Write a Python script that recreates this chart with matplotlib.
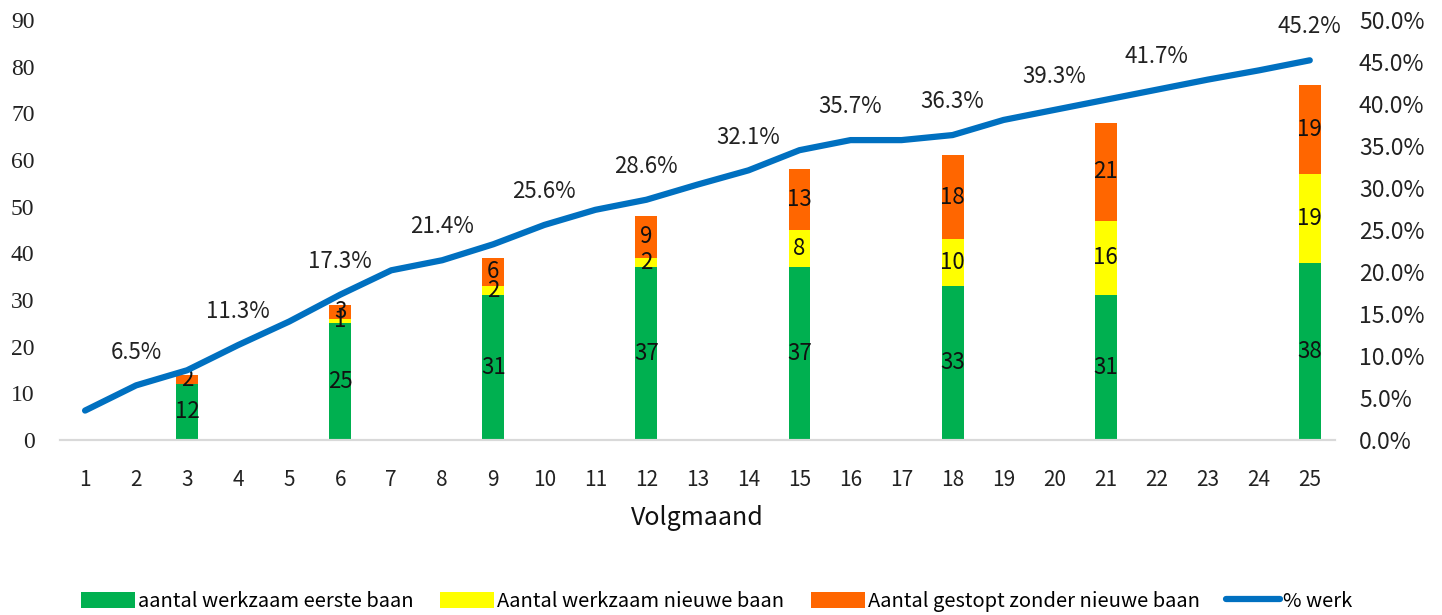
import numpy as np
import matplotlib
matplotlib.use("Agg")
import matplotlib.pyplot as plt
from matplotlib.ticker import PercentFormatter

plt.rcParams['font.family'] = ['Noto Sans CJK KR', 'DejaVu Sans']

# data
maanden = list(range(1, 26))
pct_werk = [3.5, 6.5, 8.3, 11.3, 14.1, 17.3, 20.2, 21.4, 23.3, 25.6, 27.4, 28.6, 30.4,
            32.1, 34.5, 35.7, 35.7, 36.3, 38.1, 39.3, 40.5, 41.7, 42.9, 44.0, 45.2]
label_maanden = [2, 4, 6, 8, 10, 12, 14, 16, 18, 20, 22, 25]

bar_maanden = [3, 6, 9, 12, 15, 18, 21, 25]
eerste_baan = [12, 25, 31, 37, 37, 33, 31, 38]
nieuwe_baan = [0, 1, 2, 2, 8, 10, 16, 19]
gestopt = [2, 3, 6, 9, 13, 18, 21, 19]

c_green = "#00B050"
c_yellow = "#FFFF00"
c_orange = "#FF6600"
c_blue = "#0070C0"

fig = plt.figure(figsize=(14.42, 6.15), dpi=100)
ax = fig.add_axes([0.0413, 0.2846, 0.8847, 0.6829])
ax2 = ax.twinx()

w = 0.43
b1 = ax.bar(bar_maanden, eerste_baan, w, color=c_green, label="aantal werkzaam eerste baan")
b2 = ax.bar(bar_maanden, nieuwe_baan, w, bottom=eerste_baan, color=c_yellow,
            label="Aantal werkzaam nieuwe baan")
bottom3 = np.array(eerste_baan) + np.array(nieuwe_baan)
b3 = ax.bar(bar_maanden, gestopt, w, bottom=bottom3, color=c_orange,
            label="Aantal gestopt zonder nieuwe baan")

# value labels in the middle of each segment (skip zeros)
for bars, vals in [(b1, eerste_baan), (b2, nieuwe_baan), (b3, gestopt)]:
    ax.bar_label(bars, labels=[str(v) if v else "" for v in vals], label_type="center",
                 fontsize=16, color="#111111")

ln, = ax2.plot(maanden, [p / 100 for p in pct_werk], color=c_blue, lw=4.5,
               solid_capstyle="round", label="% werk")
for m in label_maanden:
    p = pct_werk[m - 1]
    ax2.annotate(f"{p:.1f}%", (m, p / 100), xytext=(0, 24), textcoords="offset points",
                 ha="center", va="center", fontsize=16, color="#222222")

ax.set_xlim(0.5, 25.5)
ax.set_ylim(0, 90)
ax.set_yticks(range(0, 91, 10))
ax2.set_ylim(0, 0.5)
ax2.set_yticks(np.arange(0, 0.51, 0.05))
ax2.yaxis.set_major_formatter(PercentFormatter(1.0, decimals=1))
ax.set_xticks(maanden)

for a in (ax, ax2):
    for s in ["top", "left", "right"]:
        a.spines[s].set_visible(False)
    a.spines["bottom"].set_color("#D9D9D9")
    a.spines["bottom"].set_linewidth(1.5)
    a.tick_params(length=0)

ax.tick_params(axis="x", labelsize=15, pad=21, labelcolor="#222222")
ax.tick_params(axis="y", pad=18, labelcolor="#222222")
for t in ax.get_yticklabels():
    t.set_fontfamily("Liberation Serif")
    t.set_fontsize(17)
ax2.tick_params(axis="y", labelsize=16.5, pad=17, labelcolor="#222222")

ax.set_xlabel("Volgmaand", fontsize=18, labelpad=10, color="#111111")

fig.legend(handles=[b1, b2, b3, ln], loc="center", bbox_to_anchor=(0.497, 0.022),
           ncol=4, frameon=False, fontsize=14.5, handlelength=2.7, handleheight=0.9,
           handletextpad=0.15, columnspacing=1.3)

fig.savefig("out.png", dpi=100)
